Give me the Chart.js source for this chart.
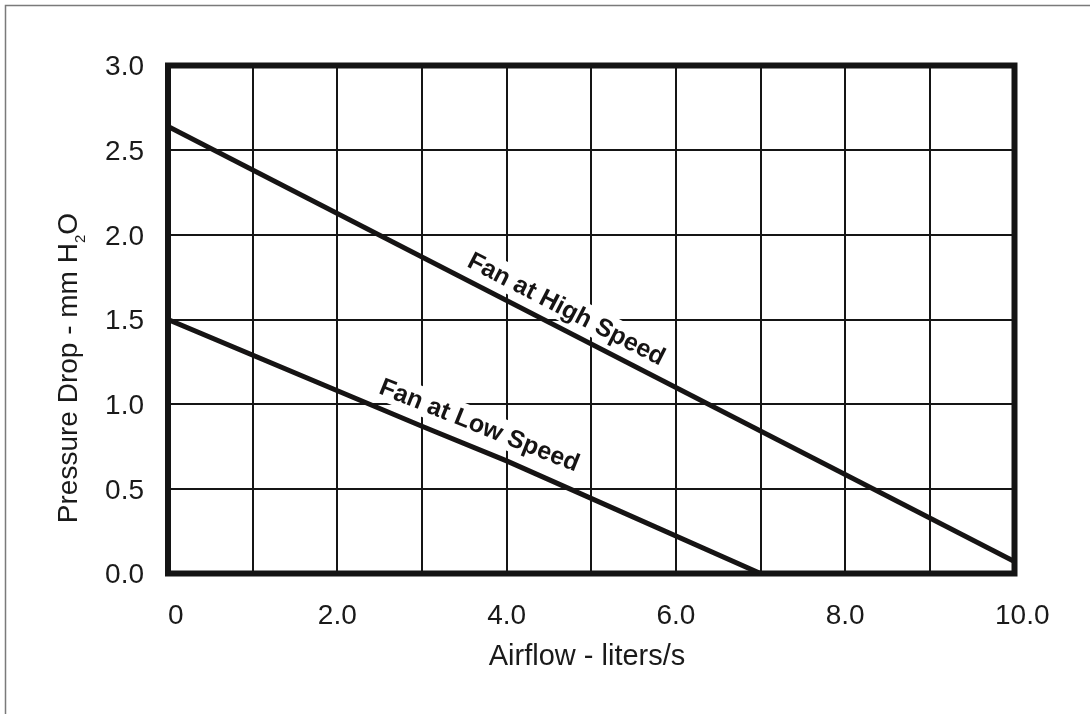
<!DOCTYPE html>
<html>
<head>
<meta charset="utf-8">
<script src="https://cdn.jsdelivr.net/npm/chart.js@4.4.1/dist/chart.umd.min.js"></script>
<style>
  html, body { margin: 0; padding: 0; background: #ffffff; }
  #wrap { position: relative; width: 1090px; height: 714px; overflow: hidden; }
  canvas { display: block; }
</style>
</head>
<body>
<div id="wrap"><canvas id="c" width="1090" height="714"></canvas></div>
<script>
// ---- data ----
const highSpeedX = [0, 10];
const highSpeedY = [2.64, 0.07];
const lowSpeedX = [0, 3, 4, 7];
const lowSpeedY = [1.5, 0.87, 0.665, 0];
const xTickValues = [0, 2, 4, 6, 8, 10];
const xTickLabels = ['0', '2.0', '4.0', '6.0', '8.0', '10.0'];
const seriesNames = ['Fan at High Speed', 'Fan at Low Speed'];
const xTitle = 'Airflow - liters/s';
const yTitleParts = ['Pressure Drop - mm H', '2', 'O']; // H2O with subscript 2

const toPoints = (xs, ys) => xs.map((x, i) => ({ x: x, y: ys[i] }));

const LEFT = 168, RIGHT = 1014.5, TOP = 65.5, BOTTOM = 573.5;
const W = 1090, H = 714;
const FONT = '"Liberation Sans", Arial, sans-serif';
const ink = '#161414';
const textInk = '#1a1a1a';

const decorPlugin = {
  id: 'decor',
  beforeDraw(chart) {
    const ctx = chart.ctx;
    ctx.save();
    ctx.fillStyle = '#ffffff';
    ctx.fillRect(0, 0, W, H);
    ctx.strokeStyle = '#7a7a7a';
    ctx.lineWidth = 1.5;
    ctx.strokeRect(5.5, 5.5, W + 10, H + 10);
    ctx.restore();
  },
  beforeDatasetsDraw(chart, args, opts) {
    const ctx = chart.ctx;
    const xs = chart.scales.x, ys = chart.scales.y;
    opts.labels.forEach((lab) => {
      const ds = chart.data.datasets[lab.dataset].data;
      const p0 = ds[0], p1 = ds[ds.length - 1];
      const ang = Math.atan2(ys.getPixelForValue(p1.y) - ys.getPixelForValue(p0.y),
                             xs.getPixelForValue(p1.x) - xs.getPixelForValue(p0.x)) + lab.tweak * Math.PI / 180;
      let yv = p0.y;
      for (let i = 0; i < ds.length - 1; i++) {
        if (lab.at >= ds[i].x && lab.at <= ds[i + 1].x) {
          const t = (lab.at - ds[i].x) / (ds[i + 1].x - ds[i].x);
          yv = ds[i].y + t * (ds[i + 1].y - ds[i].y);
        }
      }
      const px = xs.getPixelForValue(lab.at), py = ys.getPixelForValue(yv);
      ctx.save();
      ctx.translate(px, py);
      ctx.rotate(ang);
      ctx.font = 'bold 25px ' + FONT;
      const text = seriesNames[lab.dataset];
      const w = ctx.measureText(text).width;
      ctx.fillStyle = '#ffffff';
      ctx.fillRect(-w / 2 - 5, -lab.off - 23, w + 10, 29);
      ctx.fillStyle = ink;
      ctx.textAlign = 'center';
      ctx.textBaseline = 'alphabetic';
      ctx.fillText(text, 0, -lab.off);
      ctx.restore();
    });
  },
  afterDatasetsDraw(chart) {
    const ctx = chart.ctx;
    const a = chart.chartArea;
    ctx.save();
    ctx.strokeStyle = '#141414';
    ctx.lineWidth = 6;
    ctx.strokeRect(a.left, a.top, a.right - a.left, a.bottom - a.top);
    ctx.restore();
  },
  afterDraw(chart) {
    const ctx = chart.ctx;
    ctx.save();
    ctx.fillStyle = textInk;
    // x axis title
    ctx.font = '29px ' + FONT;
    ctx.textAlign = 'center';
    ctx.textBaseline = 'middle';
    ctx.fillText(xTitle, 587, 657);
    // y axis title (rotated, with subscript)
    const big = '28px ' + FONT, small = '15px ' + FONT;
    ctx.font = big;
    const w0 = ctx.measureText(yTitleParts[0]).width;
    const w2 = ctx.measureText(yTitleParts[2]).width;
    ctx.font = small;
    const w1 = ctx.measureText(yTitleParts[1]).width;
    const total = w0 + w1 + w2;
    ctx.translate(77, 213);
    ctx.rotate(-Math.PI / 2);
    ctx.textAlign = 'left';
    ctx.textBaseline = 'alphabetic';
    let x = -total;
    ctx.font = big;
    ctx.fillText(yTitleParts[0], x, 0);
    x += w0;
    ctx.font = small;
    ctx.fillText(yTitleParts[1], x, 8);
    x += w1;
    ctx.font = big;
    ctx.fillText(yTitleParts[2], x, 0);
    ctx.restore();
  }
};

new Chart(document.getElementById('c'), {
  type: 'line',
  data: {
    datasets: [
      { label: seriesNames[0], data: toPoints(highSpeedX, highSpeedY) },
      { label: seriesNames[1], data: toPoints(lowSpeedX, lowSpeedY) }
    ]
  },
  options: {
    responsive: false,
    animation: false,
    devicePixelRatio: 1,
    layout: { padding: { left: 0, right: W - RIGHT, top: TOP, bottom: 0 } },
    elements: {
      line: { borderColor: ink, borderWidth: 5, tension: 0, borderCapStyle: 'butt' },
      point: { radius: 0, hoverRadius: 0 }
    },
    plugins: {
      legend: { display: false },
      tooltip: { enabled: false },
      decor: {
        labels: [
          { dataset: 0, at: 4.6, off: 12, tweak: 0 },
          { dataset: 1, at: 3.58, off: 15, tweak: -1.5 }
        ]
      }
    },
    scales: {
      x: {
        type: 'linear',
        min: 0, max: 10,
        afterFit(s) { s.height = H - BOTTOM; },
        grid: { color: '#151515', lineWidth: 2, drawTicks: false },
        border: { display: false },
        ticks: {
          stepSize: 1,
          padding: 26,
          color: textInk,
          font: { family: FONT, size: 28 },
          maxRotation: 0,
          autoSkip: false,
          callback(v) {
            const i = xTickValues.indexOf(v);
            if (i < 0) return '';
            const t = xTickLabels[i];
            return (i === 0 || i === xTickValues.length - 1) ? '  ' + t : t;
          }
        }
      },
      y: {
        type: 'linear',
        min: 0, max: 3,
        afterFit(s) { s.width = LEFT; },
        grid: { color: '#151515', lineWidth: 2, drawTicks: false },
        border: { display: false },
        ticks: {
          stepSize: 0.5,
          padding: 24,
          labelOffset: 2,
          color: textInk,
          font: { family: FONT, size: 28 },
          callback(v) { return Number(v).toFixed(1); }
        }
      }
    }
  },
  plugins: [decorPlugin]
});
</script>
</body>
</html>
